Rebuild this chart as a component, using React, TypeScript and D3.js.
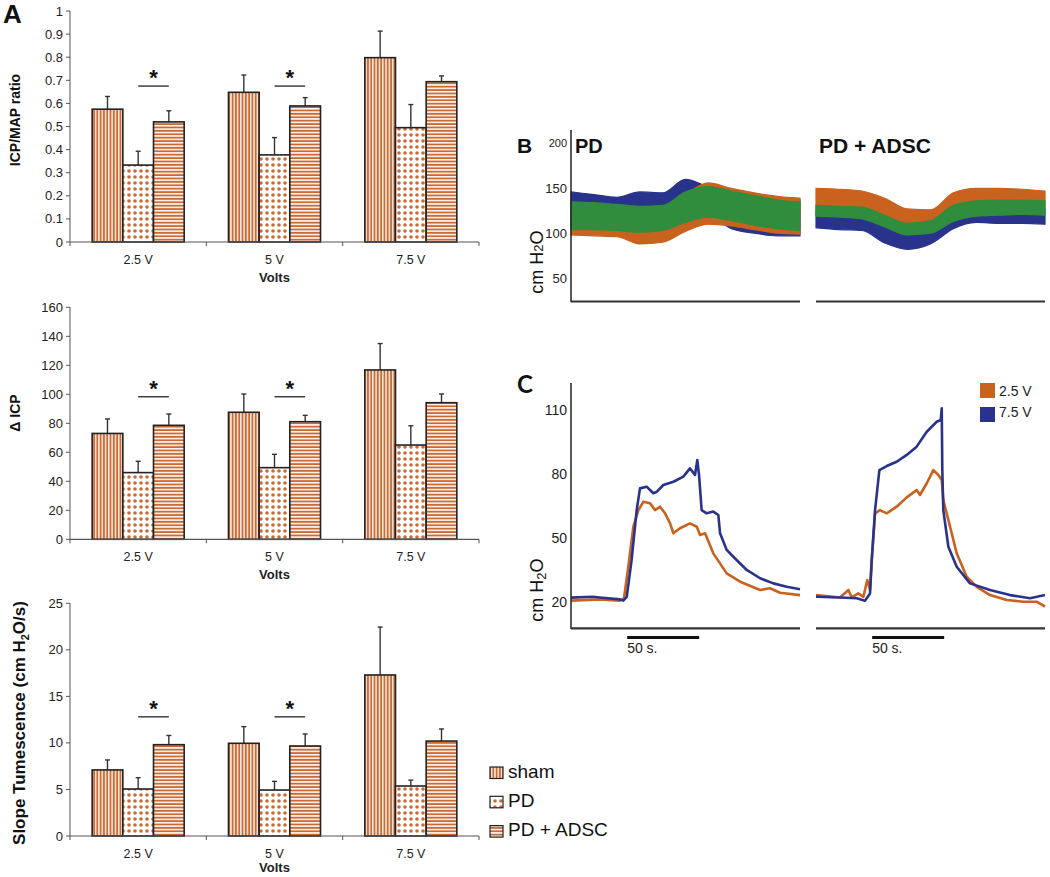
import React from "react";
import * as d3 from "d3";

// ---------- Panel A data ----------
const volts = ["2.5 V", "5 V", "7.5 V"];
const groups = ["sham", "PD", "PD + ADSC"];
const sigVolts = ["2.5 V", "5 V"];

const ratioMeans = [
  [0.575, 0.648, 0.798],
  [0.333, 0.377, 0.495],
  [0.52, 0.589, 0.694],
];
const ratioErrs = [
  [0.055, 0.075, 0.115],
  [0.06, 0.075, 0.1],
  [0.048, 0.036, 0.025],
];
const icpMeans = [
  [73, 87.6, 116.8],
  [46, 49.4, 65],
  [78.6, 81.1, 94.2],
];
const icpErrs = [
  [10, 12.6, 18.2],
  [7.8, 9.2, 13.3],
  [7.8, 4.4, 6],
];
const slopeMeans = [
  [7.1, 9.96, 17.3],
  [5.05, 4.94, 5.37],
  [9.81, 9.67, 10.2],
];
const slopeErrs = [
  [1.07, 1.79, 5.15],
  [1.22, 0.93, 0.63],
  [0.99, 1.29, 1.3],
];

// ---------- Panel B data (cm H2O envelopes, time index 0..100) ----------
const bTime = [0, 10, 20, 30, 40, 50, 60, 70, 80, 90, 100];
const bTicks = [50, 100, 150, 200];
const pdBlueHi = [146, 143, 140, 146, 145, 160, 152, 148, 142, 138, 137];
const pdBlueLo = [118, 117, 116, 113, 115, 122, 120, 105, 100, 97, 97];
const pdOrangeHi = [125, 124, 123, 122, 124, 143, 156, 150, 145, 141, 139];
const pdOrangeLo = [98, 97, 96, 88, 90, 102, 110, 108, 104, 100, 99];
const pdGreenHi = [135, 134, 132, 130, 131, 146, 152, 147, 142, 137, 135];
const pdGreenLo = [104, 104, 103, 101, 103, 112, 118, 114, 109, 105, 103];

const adBlueHi = [125, 124, 122, 112, 104, 106, 120, 128, 129, 129, 128];
const adBlueLo = [106, 104, 103, 89, 82, 88, 105, 112, 111, 111, 110];
const adOrangeHi = [150, 149, 147, 139, 127, 126, 145, 150, 150, 149, 147];
const adOrangeLo = [124, 123, 121, 114, 106, 108, 124, 130, 131, 131, 130];
const adGreenHi = [131, 130, 129, 120, 111, 114, 131, 136, 137, 137, 136];
const adGreenLo = [119, 118, 116, 107, 98, 100, 113, 119, 120, 121, 120];

// ---------- Panel C data ([seconds, cm H2O]) ----------
const cTicks = [20, 50, 80, 110];
const cLegend = ["2.5 V", "7.5 V"];
const pdTrace75: [number, number][] = [
  [0, 21.9], [15.5, 22.3], [20, 22.0], [34, 21.1], [36.3, 20.5], [38.7, 22.3],
  [42.1, 39.6], [45.6, 63], [47.9, 73.2], [52.5, 74], [57.2, 70.9], [59.5, 71.6],
  [64.1, 74.8], [71.1, 76.3], [78, 78.7], [82.6, 82.6], [86.1, 79.5], [87.7, 86.5],
  [88.9, 79.5], [90.7, 63], [94.2, 61.5], [98.8, 62.3], [102.3, 60.7], [103.5, 52.1],
  [108.1, 44.3], [112.7, 41.1], [122, 34.9], [131.3, 31], [140.5, 28.6], [149.8, 27], [159, 25.8],
];
const pdTrace25: [number, number][] = [
  [0, 20.5], [20, 21.1], [34, 20.5], [36.8, 21.6], [39.8, 36.4], [43.3, 55.2],
  [46.8, 63], [50.2, 66.9], [54.9, 66.2], [58.3, 63], [61.8, 64.6], [65.3, 61.5],
  [68.8, 56.8], [71.1, 52.1], [75.7, 54.5], [82.6, 56.8], [87.3, 55.2], [89.6, 51.3],
  [93.1, 52.1], [98.8, 42.7], [108.1, 33.3], [117.4, 29.4], [131.3, 25.5],
  [138.2, 26.3], [145.1, 24.2], [159, 23.1],
];
const adTrace75: [number, number][] = [
  [0, 22.3], [16.7, 22.0], [28.2, 21.6], [34, 20.5], [37.5, 23.9], [38.7, 39.6],
  [41, 63], [44, 81.8], [49.1, 83.7], [56, 85.7], [63, 88.9], [69.9, 92.8],
  [76.9, 99.8], [83.8, 104.5], [86.6, 105.3], [87.3, 110.8], [87.7, 81.8], [88.4, 63],
  [91.9, 45.8], [97.7, 36.4], [106.9, 28.6], [120.8, 25.5], [134.7, 23.1],
  [148.6, 21.6], [159, 23.1],
];
const adTrace25: [number, number][] = [
  [0, 23.1], [16.7, 22.0], [22.5, 25.5], [24.8, 22.0], [29.4, 23.9], [32.9, 22.3],
  [35.6, 30.2], [37.5, 25.5], [38.7, 39.6], [41, 61.5], [44.4, 63], [49.1, 61.5],
  [56, 64.6], [63, 69], [69.9, 72.4], [72.2, 70.1], [76.9, 75.6], [81.5, 81.8],
  [85, 79.5], [87.3, 77.1], [88.4, 67.7], [93.1, 55.2], [97.7, 42.7], [104.6, 31.7],
  [111.6, 27], [120.8, 23.1], [132.4, 20.8], [144, 20], [153.2, 20], [159, 17.7],
];
const scaleBarStart = 39;
const scaleBarLen = 50;

// ---------- styles ----------
const BAR_ORANGE = "#cc6a33";
const T_ORANGE = "#c9621f";
const BLUE = "#29338c";
const GREEN = "#2f8d3d";
const FONT = "'Liberation Sans', Arial, Helvetica, sans-serif";
const patternIds = ["pv", "pdots", "ph"];

type PanelProps = {
  top: number;
  bottom: number;
  domain: [number, number];
  step: number;
  fmt: string;
  means: number[][];
  errs: number[][];
  sig: number;
  label: React.ReactNode;
  labelX: number;
  labelY: number;
  labelSize: number;
  voltsDy: number;
};

function BarPanel(p: PanelProps) {
  const x = d3.scaleBand<string>().domain(volts).range([70, 479]);
  const bw = x.bandwidth();
  const xi = d3.scaleBand<string>().domain(groups).range([bw * 0.1625, bw * 0.8375]);
  const y = d3.scaleLinear().domain(p.domain).range([p.bottom, p.top]);
  const ticks = d3.range(p.domain[0], p.domain[1] + p.step / 2, p.step);
  const f = d3.format(p.fmt);
  const edges = [...volts.map((v) => x(v)!), 479];
  return (
    <g fontFamily={FONT}>
      {groups.map((g, gi) =>
        volts.map((v, vi) => {
          const x0 = x(v)! + xi(g)!;
          const w = xi.bandwidth();
          const m = p.means[gi][vi];
          const e = p.errs[gi][vi];
          const cx = x0 + w / 2;
          return (
            <g key={g + v}>
              <line x1={cx} x2={cx} y1={y(m)} y2={y(m + e)} stroke="#333" strokeWidth={1.4} />
              <line x1={cx - 2.5} x2={cx + 2.5} y1={y(m + e)} y2={y(m + e)} stroke="#333" strokeWidth={1.4} />
              <rect x={x0} y={y(m)} width={w} height={y(0) - y(m)} fill="white" />
              <rect x={x0} y={y(m)} width={w} height={y(0) - y(m)} fill={`url(#${patternIds[gi]})`} stroke="#222" strokeWidth={1.6} />
            </g>
          );
        })
      )}
      {/* axes */}
      <line x1={70} x2={70} y1={p.top} y2={p.bottom} stroke="#555" strokeWidth={1} />
      <line x1={70} x2={479} y1={p.bottom} y2={p.bottom} stroke="#555" strokeWidth={1.2} />
      {ticks.map((t) => (
        <g key={t}>
          <line x1={66} x2={70} y1={y(t)} y2={y(t)} stroke="#555" />
          <text x={63} y={y(t)} dy="0.35em" textAnchor="end" fontSize={13} fill="#222">
            {f(t)}
          </text>
        </g>
      ))}
      {edges.map((e, i) => (
        <line key={i} x1={e} x2={e} y1={p.bottom} y2={p.bottom + 4} stroke="#555" />
      ))}
      {volts.map((v) => (
        <text key={v} x={x(v)! + bw / 2} y={p.bottom + 21.5} textAnchor="middle" fontSize={12.5} fill="#222">
          {v}
        </text>
      ))}
      <text x={x("5 V")! + bw / 2} y={p.bottom + p.voltsDy} textAnchor="middle" fontSize={13} fontWeight="bold" fill="#222">
        Volts
      </text>
      {sigVolts.map((v) => {
        const a = x(v)! + xi("PD")! + xi.bandwidth() / 2;
        const b = x(v)! + xi("PD + ADSC")! + xi.bandwidth() / 2;
        return (
          <g key={v}>
            <line x1={a} x2={b} y1={y(p.sig)} y2={y(p.sig)} stroke="#222" strokeWidth={1.3} />
            <text x={(a + b) / 2} y={y(p.sig) - 1} textAnchor="middle" fontSize={22} fontWeight="bold" fill="#111">
              *
            </text>
          </g>
        );
      })}
      <text
        transform={`translate(${p.labelX},${p.labelY}) rotate(-90)`}
        textAnchor="middle"
        fontSize={p.labelSize}
        fontWeight="bold"
        fill="#111"
      >
        {p.label}
      </text>
    </g>
  );
}

function bandPath(xs: d3.ScaleLinear<number, number>, ys: d3.ScaleLinear<number, number>, hi: number[], lo: number[]) {
  const data = bTime.map((t, i) => ({ t, hi: hi[i], lo: lo[i] }));
  return d3
    .area<{ t: number; hi: number; lo: number }>()
    .x((d) => xs(d.t))
    .y0((d) => ys(d.lo))
    .y1((d) => ys(d.hi))
    .curve(d3.curveMonotoneX)(data)!;
}

function PanelB() {
  const y = d3.scaleLinear().domain([50, 200]).range([278, 143.5]);
  const xl = d3.scaleLinear().domain([0, 100]).range([571, 800]);
  const xr = d3.scaleLinear().domain([0, 100]).range([816, 1045]);
  const sets = [
    { xs: xl, bands: [[pdBlueHi, pdBlueLo, BLUE], [pdOrangeHi, pdOrangeLo, T_ORANGE], [pdGreenHi, pdGreenLo, GREEN]] },
    { xs: xr, bands: [[adBlueHi, adBlueLo, BLUE], [adOrangeHi, adOrangeLo, T_ORANGE], [adGreenHi, adGreenLo, GREEN]] },
  ];
  return (
    <g fontFamily={FONT}>
      {sets.map((s, si) =>
        s.bands.map((b, bi) => (
          <path
            key={si + "-" + bi}
            d={bandPath(s.xs, y, b[0] as number[], b[1] as number[])}
            fill={b[2] as string}
            stroke={b[2] as string}
            strokeWidth={1.2}
          />
        ))
      )}
      <line x1={571} x2={571} y1={130} y2={302} stroke="#222" strokeWidth={1.5} />
      <line x1={571} x2={800} y1={301.5} y2={301.5} stroke="#333" strokeWidth={2.2} />
      <line x1={816} x2={1045} y1={301.5} y2={301.5} stroke="#333" strokeWidth={2.2} />
      {bTicks.map((t) => (
        <text key={t} x={567} y={y(t)} dy="0.35em" textAnchor="end" fontSize={t === 200 ? 11 : 13} fill="#222">
          {t}
        </text>
      ))}
      <text transform="translate(543,262) rotate(-90)" textAnchor="middle" fontSize={18} fill="#111">
        cm H<tspan fontSize={13}>2</tspan>O
      </text>
      <text x={517} y={153} fontSize={21} fontWeight="bold" fill="#111">B</text>
      <text x={575} y={153} fontSize={20} fontWeight="bold" fill="#111">PD</text>
      <text x={819} y={153} fontSize={21} fontWeight="bold" fill="#111">PD + ADSC</text>
    </g>
  );
}

function PanelC() {
  const y = d3.scaleLinear().domain([20, 110]).range([601.7, 410]);
  const xl = d3.scaleLinear().domain([0, 159]).range([571, 800]);
  const xr = d3.scaleLinear().domain([0, 159]).range([816, 1045]);
  const line = (xs: d3.ScaleLinear<number, number>) =>
    d3
      .line<[number, number]>()
      .x((d) => xs(d[0]))
      .y((d) => y(d[1]));
  const traces = [
    { xs: xl, data: pdTrace25, c: T_ORANGE },
    { xs: xl, data: pdTrace75, c: BLUE },
    { xs: xr, data: adTrace25, c: T_ORANGE },
    { xs: xr, data: adTrace75, c: BLUE },
  ];
  return (
    <g fontFamily={FONT}>
      {traces.map((t, i) => (
        <path key={i} d={line(t.xs)(t.data)!} fill="none" stroke={t.c} strokeWidth={2.6} strokeLinejoin="round" />
      ))}
      <line x1={571} x2={571} y1={383} y2={629} stroke="#222" strokeWidth={1.5} />
      <line x1={571} x2={800} y1={628.3} y2={628.3} stroke="#333" strokeWidth={2.2} />
      <line x1={816} x2={1045} y1={628.3} y2={628.3} stroke="#333" strokeWidth={2.2} />
      {cTicks.map((t) => (
        <text key={t} x={567} y={y(t)} dy="0.35em" textAnchor="end" fontSize={14} fill="#222">
          {t}
        </text>
      ))}
      <text transform="translate(543,590) rotate(-90)" textAnchor="middle" fontSize={18} fill="#111">
        cm H<tspan fontSize={13} dy={3}>2</tspan><tspan dy={-3}>O</tspan>
      </text>
      <text x={517} y={393} fontSize={24} fontWeight="bold" fill="#111" fontFamily="Lato, 'Open Sans', sans-serif">C</text>
      {[xl, xr].map((xs, i) => (
        <g key={i}>
          <line x1={xs(scaleBarStart)} x2={xs(scaleBarStart + scaleBarLen)} y1={637.5} y2={637.5} stroke="#111" strokeWidth={3} />
          <text x={xs(scaleBarStart)} y={653} fontSize={14} fill="#222">50 s.</text>
        </g>
      ))}
      {cLegend.map((l, i) => (
        <g key={l}>
          <rect x={980} y={383 + i * 24} width={15} height={15} fill={i === 0 ? T_ORANGE : BLUE} />
          <text x={999} y={396 + i * 21} fontSize={14} fill="#222">{l}</text>
        </g>
      ))}
    </g>
  );
}

function Legend() {
  return (
    <g fontFamily={FONT}>
      {groups.map((g, i) => (
        <g key={g}>
          <rect x={490} y={767 + i * 29.3} width={13} height={11.5} fill="white" />
          <rect x={490} y={767 + i * 29.3} width={13} height={11.5} fill={`url(#${patternIds[i]})`} stroke="#222" strokeWidth={1.2} />
          <text x={508} y={777.5 + i * 29.3} fontSize={19} fill="#111">{g}</text>
        </g>
      ))}
    </g>
  );
}

export default function App() {
  return (
    <svg width={1050} height={877} style={{ position: "absolute", left: 0, top: 0, background: "white" }}>
      <defs>
        <pattern id="pv" patternUnits="userSpaceOnUse" width={3.3} height={10}>
          <rect x={0} y={0} width={3.3} height={10} fill="white" />
          <rect x={0.6} y={0} width={2} height={10} fill={BAR_ORANGE} />
        </pattern>
        <pattern id="ph" patternUnits="userSpaceOnUse" width={10} height={3.4}>
          <rect x={0} y={0} width={10} height={3.4} fill="white" />
          <rect x={0} y={0.7} width={10} height={1.9} fill={BAR_ORANGE} />
        </pattern>
        <pattern id="pdots" patternUnits="userSpaceOnUse" width={6} height={6}>
          <rect x={0} y={0} width={6} height={6} fill="white" />
          <circle cx={3} cy={3} r={1.8} fill={BAR_ORANGE} />
        </pattern>
      </defs>
      <rect x={0} y={0} width={1050} height={877} fill="white" />
      <text x={3} y={23} fontFamily={FONT} fontSize={26} fontWeight="bold" fill="#111">A</text>
      <BarPanel
        top={11}
        bottom={242}
        domain={[0, 1]}
        step={0.1}
        fmt=".1~f"
        means={ratioMeans}
        errs={ratioErrs}
        sig={0.675}
        label="ICP/MAP ratio"
        labelX={20}
        labelY={120}
        labelSize={14}
        voltsDy={40}
      />
      <BarPanel
        top={307.3}
        bottom={539.3}
        domain={[0, 160]}
        step={20}
        fmt=".0f"
        means={icpMeans}
        errs={icpErrs}
        sig={98.3}
        label="Δ ICP"
        labelX={20}
        labelY={413}
        labelSize={14}
        voltsDy={40}
      />
      <BarPanel
        top={603.3}
        bottom={836}
        domain={[0, 25]}
        step={5}
        fmt=".0f"
        means={slopeMeans}
        errs={slopeErrs}
        sig={12.8}
        label={
          <>
            Slope Tumescence (cm H<tspan fontSize={11} dy={4}>2</tspan>
            <tspan dy={-4}>O/s)</tspan>
          </>
        }
        labelX={25}
        labelY={723}
        labelSize={17}
        voltsDy={36}
      />
      <Legend />
      <PanelB />
      <PanelC />
    </svg>
  );
}
